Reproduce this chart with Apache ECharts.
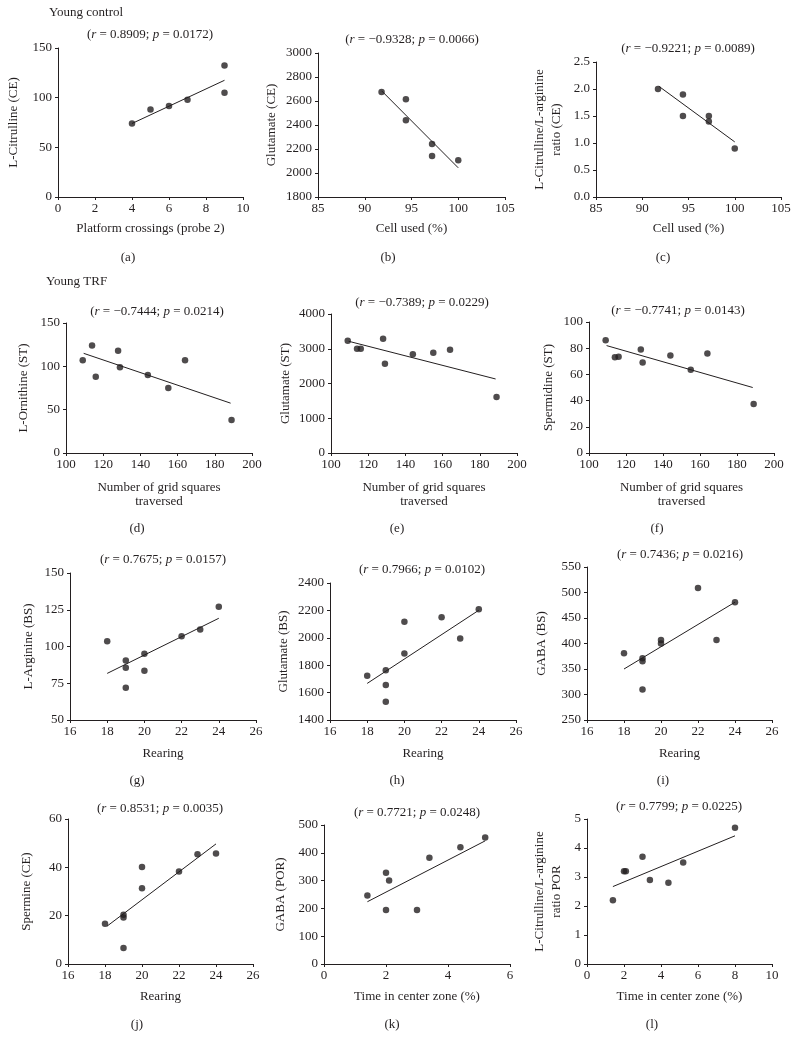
<!DOCTYPE html>
<html><head><meta charset="utf-8">
<script src="https://cdn.jsdelivr.net/npm/echarts@6/dist/echarts.min.js"></script>
<style>html,body{margin:0;padding:0;background:#fff}#c{width:798px;height:1052px}</style>
</head><body><div id="c"></div>
<script>
// ---- data ----
const aX = [4, 5, 6, 7, 9, 9];
const aY = [74, 88, 91.5, 98, 105, 132.5];
const aTrend = [[4, 74], [9, 117.5]];

const bX = [91.8, 94.4, 94.4, 97.2, 97.2, 100];
const bY = [2675, 2614, 2439, 2242, 2142, 2106];
const bTrend = [[91.8, 2685], [100, 2043]];

const cX = [91.7, 94.4, 94.4, 97.2, 97.2, 100];
const cY = [2.0, 1.9, 1.5, 1.5, 1.4, 0.9];
const cTrend = [[91.8, 2.05], [100, 1.02]];

const dX = [109, 114, 116, 128, 129, 144, 155, 164, 189];
const dY = [107, 124, 88, 118, 99, 90, 75, 107, 38];
const dTrend = [[109.5, 115], [188.5, 57.5]];

const eX = [109, 114, 116, 128, 129, 144, 155, 164, 189];
const eY = [3233, 3002, 3002, 3290, 2571, 2839, 2887, 2974, 1611];
const eTrend = [[109.5, 3215], [188.5, 2130]];

const fX = [109, 114, 116, 128, 129, 144, 155, 164, 189];
const fY = [86, 73, 73.5, 79, 69, 74.5, 63.5, 76, 37.5];
const fTrend = [[109.5, 82], [188.5, 50]];

const gX = [18, 19, 19, 19, 20, 20, 22, 23, 24];
const gY = [103.5, 90.5, 85.5, 72, 95, 83.5, 107, 111.5, 127];
const gTrend = [[18, 81.7], [24, 119.2]];

const hX = [18, 19, 19, 19, 20, 20, 22, 23, 24];
const hY = [1723, 1764, 1655, 1533, 1885, 2118, 2150, 1995, 2208];
const hTrend = [[18, 1667], [24, 2201]];

const iX = [18, 19, 19, 19, 20, 20, 22, 23, 24];
const iY = [381, 371, 365, 310, 407, 400, 509, 407, 481];
const iTrend = [[18, 350], [24, 481]];

const jX = [18, 19, 19, 19, 20, 20, 22, 23, 24];
const jY = [16.7, 20.4, 19.2, 6.6, 40.1, 31.3, 38.3, 45.4, 45.7];
const jTrend = [[18.1, 15.6], [24, 49.7]];

const kX = [1.4, 2.0, 2.1, 2.0, 3.0, 3.4, 4.4, 5.2];
const kY = [246, 328, 300, 194, 194, 382, 420, 455];
const kTrend = [[1.4, 224], [5.2, 443]];

const lX = [1.4, 2.0, 2.1, 3.0, 3.4, 4.4, 5.2, 8.0];
const lY = [2.2, 3.2, 3.2, 3.7, 2.9, 2.8, 3.5, 4.7];
const lTrend = [[1.4, 2.67], [8.0, 4.42]];

const rVals = ['0.8909', '\u22120.9328', '\u22120.9221', '\u22120.7444', '\u22120.7389', '\u22120.7741', '0.7675', '0.7966', '0.7436', '0.8531', '0.7721', '0.7799'];
const pVals = ['0.0172', '0.0066', '0.0089', '0.0214', '0.0229', '0.0143', '0.0157', '0.0102', '0.0216', '0.0035', '0.0248', '0.0225'];
const panelLabels = ['(a)', '(b)', '(c)', '(d)', '(e)', '(f)', '(g)', '(h)', '(i)', '(j)', '(k)', '(l)'];

const xNames = ['Platform crossings (probe 2)', 'Cell used (%)', 'Cell used (%)',
  'Number of grid squares\ntraversed', 'Number of grid squares\ntraversed', 'Number of grid squares\ntraversed',
  'Rearing', 'Rearing', 'Rearing', 'Rearing', 'Time in center zone (%)', 'Time in center zone (%)'];
const yNames = ['L-Citrulline (CE)', 'Glutamate (CE)', 'L-Citrulline/L-arginine\nratio (CE)',
  'L-Ornithine (ST)', 'Glutamate (ST)', 'Spermidine (ST)',
  'L-Arginine (BS)', 'Glutamate (BS)', 'GABA (BS)',
  'Spermine (CE)', 'GABA (POR)', 'L-Citrulline/L-arginine\nratio POR'];

// axis ticks: [min, max, interval]
const xTicks = [[0, 10, 2], [85, 105, 5], [85, 105, 5], [100, 200, 20], [100, 200, 20], [100, 200, 20],
  [16, 26, 2], [16, 26, 2], [16, 26, 2], [16, 26, 2], [0, 6, 2], [0, 10, 2]];
const yTicks = [[0, 150, 50], [1800, 3000, 200], [0, 2.5, 0.5], [0, 150, 50], [0, 4000, 1000], [0, 100, 20],
  [50, 150, 25], [1400, 2400, 200], [250, 550, 50], [0, 60, 20], [0, 500, 100], [0, 5, 1]];
const yDecimals = [0, 0, 1, 0, 0, 0, 0, 0, 0, 0, 0, 0];

// ---- layout ----
const gridRects = [[58, 48, 185, 149], [318, 53, 187, 144], [596, 62, 185, 135],
  [66, 323, 186, 130], [331, 314, 186, 139], [589, 322, 185, 131],
  [70, 573, 186, 147], [330, 583, 186, 137], [587, 567, 185, 153],
  [68, 819, 185, 145], [324, 825, 186, 139], [587, 819, 185, 145]];
const yNameGaps = [36, 38, 31, 34, 37, 32, 33, 38, 37, 33, 35, 22];
const xNameGaps = [25, 25, 25, 28, 28, 28, 27, 27, 27, 26, 26, 26];
const annotPos = [[150, 35], [412, 40], [688, 49], [157, 312], [422, 303], [678, 311],
  [163, 560], [422, 570], [680, 555], [160, 809], [417, 813], [679, 807]];
const labelPos = [[128, 258], [388, 258], [663, 258], [137, 529], [397, 529], [657, 529],
  [137, 781], [397, 781], [663, 781], [137, 1025], [392, 1025], [652, 1025]];

const FONT = '"Liberation Serif", "DejaVu Serif", serif';
const INK = '#231f20';
const FS = 13;

const xs = [aX, bX, cX, dX, eX, fX, gX, hX, iX, jX, kX, lX];
const ys = [aY, bY, cY, dY, eY, fY, gY, hY, iY, jY, kY, lY];
const trends = [aTrend, bTrend, cTrend, dTrend, eTrend, fTrend, gTrend, hTrend, iTrend, jTrend, kTrend, lTrend];

const grid = [], xAxis = [], yAxis = [], series = [], graphic = [];
for (let k = 0; k < 12; k++) {
  const r = gridRects[k];
  grid.push({ left: r[0], top: r[1], width: r[2], height: r[3], containLabel: false });
  const axisCommon = {
    axisLine: { show: true, lineStyle: { color: INK, width: 1 } },
    axisTick: { show: true, inside: false, length: 3, lineStyle: { color: INK } },
    splitLine: { show: false },
    nameLocation: 'middle',
    nameTextStyle: { fontFamily: FONT, fontSize: FS, color: INK, lineHeight: 15 }
  };
  xAxis.push(Object.assign({}, axisCommon, {
    gridIndex: k, type: 'value', min: xTicks[k][0], max: xTicks[k][1], interval: xTicks[k][2],
    name: xNames[k], nameGap: xNameGaps[k],
    nameTextStyle: { fontFamily: FONT, fontSize: FS, color: INK, lineHeight: 14 },
    axisLabel: { fontFamily: FONT, fontSize: FS, color: INK, margin: 5 }
  }));
  const dec = yDecimals[k];
  yAxis.push(Object.assign({}, axisCommon, {
    gridIndex: k, type: 'value', min: yTicks[k][0], max: yTicks[k][1], interval: yTicks[k][2],
    name: yNames[k], nameGap: yNameGaps[k], nameRotate: 90,
    nameTextStyle: { fontFamily: FONT, fontSize: FS, color: INK, lineHeight: 17 },
    axisLabel: { fontFamily: FONT, fontSize: FS, color: INK, margin: 6,
      formatter: v => v.toFixed(dec) }
  }));
  series.push({
    type: 'scatter', xAxisIndex: k, yAxisIndex: k, symbol: 'circle', symbolSize: 6.5,
    itemStyle: { color: INK }, data: xs[k].map((x, n) => [x, ys[k][n]]), silent: true
  });
  series.push({
    type: 'line', xAxisIndex: k, yAxisIndex: k, symbol: 'none', silent: true,
    lineStyle: { color: INK, width: 1 }, data: trends[k]
  });
  graphic.push({
    type: 'text', x: annotPos[k][0], y: annotPos[k][1], silent: true,
    style: {
      text: '({i|r} = ' + rVals[k] + '; {i|p} = ' + pVals[k] + ')',
      align: 'center', verticalAlign: 'middle',
      fontFamily: FONT, fontSize: FS, fill: INK,
      rich: { i: { fontFamily: FONT, fontSize: FS, fontStyle: 'italic', fill: INK, color: INK } }
    }
  });
  graphic.push({
    type: 'text', x: labelPos[k][0], y: labelPos[k][1], silent: true,
    style: { text: panelLabels[k], align: 'center', verticalAlign: 'middle', fontFamily: FONT, fontSize: FS, fill: INK }
  });
}
graphic.push({ type: 'text', x: 49, y: 13, silent: true,
  style: { text: 'Young control', align: 'left', verticalAlign: 'middle', fontFamily: FONT, fontSize: FS, fill: INK } });
graphic.push({ type: 'text', x: 46, y: 282, silent: true,
  style: { text: 'Young TRF', align: 'left', verticalAlign: 'middle', fontFamily: FONT, fontSize: FS, fill: INK } });

const chart = echarts.init(document.getElementById('c'), null, { renderer: 'canvas' });
chart.setOption({
  backgroundColor: '#ffffff',
  animation: false,
  grid, xAxis, yAxis, series, graphic
});
</script></body></html>
